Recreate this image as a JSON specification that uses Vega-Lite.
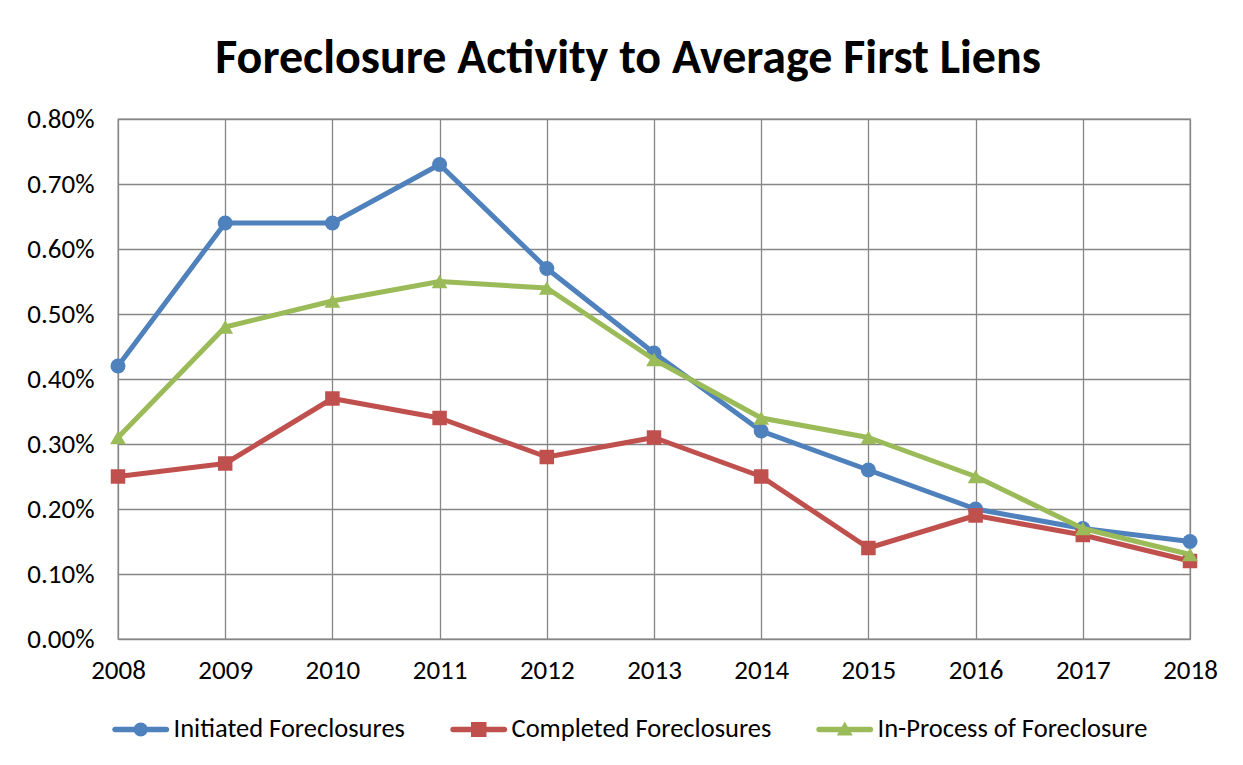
{
  "$schema": "https://vega.github.io/schema/vega-lite/v6.json",
  "autosize": {"type": "none"},
  "padding": {"left": 118, "top": 119, "right": 53, "bottom": 126},
  "width": 1072,
  "height": 520,
  "background": "white",
  "title": {
    "text": "Foreclosure Activity to Average First Liens",
    "font": "Carlito, Lato",
    "fontSize": 48,
    "fontWeight": "bold",
    "color": "black",
    "anchor": "middle",
    "dx": -26,
    "offset": 22
  },
  "data": {
    "values": [
      {"year": 2008, "series": "Initiated Foreclosures", "value": 0.0042},
      {"year": 2009, "series": "Initiated Foreclosures", "value": 0.0064},
      {"year": 2010, "series": "Initiated Foreclosures", "value": 0.0064},
      {"year": 2011, "series": "Initiated Foreclosures", "value": 0.0073},
      {"year": 2012, "series": "Initiated Foreclosures", "value": 0.0057},
      {"year": 2013, "series": "Initiated Foreclosures", "value": 0.0044},
      {"year": 2014, "series": "Initiated Foreclosures", "value": 0.0032},
      {"year": 2015, "series": "Initiated Foreclosures", "value": 0.0026},
      {"year": 2016, "series": "Initiated Foreclosures", "value": 0.0020},
      {"year": 2017, "series": "Initiated Foreclosures", "value": 0.0017},
      {"year": 2018, "series": "Initiated Foreclosures", "value": 0.0015},
      {"year": 2008, "series": "Completed Foreclosures", "value": 0.0025},
      {"year": 2009, "series": "Completed Foreclosures", "value": 0.0027},
      {"year": 2010, "series": "Completed Foreclosures", "value": 0.0037},
      {"year": 2011, "series": "Completed Foreclosures", "value": 0.0034},
      {"year": 2012, "series": "Completed Foreclosures", "value": 0.0028},
      {"year": 2013, "series": "Completed Foreclosures", "value": 0.0031},
      {"year": 2014, "series": "Completed Foreclosures", "value": 0.0025},
      {"year": 2015, "series": "Completed Foreclosures", "value": 0.0014},
      {"year": 2016, "series": "Completed Foreclosures", "value": 0.0019},
      {"year": 2017, "series": "Completed Foreclosures", "value": 0.0016},
      {"year": 2018, "series": "Completed Foreclosures", "value": 0.0012},
      {"year": 2008, "series": "In-Process of Foreclosure", "value": 0.0031},
      {"year": 2009, "series": "In-Process of Foreclosure", "value": 0.0048},
      {"year": 2010, "series": "In-Process of Foreclosure", "value": 0.0052},
      {"year": 2011, "series": "In-Process of Foreclosure", "value": 0.0055},
      {"year": 2012, "series": "In-Process of Foreclosure", "value": 0.0054},
      {"year": 2013, "series": "In-Process of Foreclosure", "value": 0.0043},
      {"year": 2014, "series": "In-Process of Foreclosure", "value": 0.0034},
      {"year": 2015, "series": "In-Process of Foreclosure", "value": 0.0031},
      {"year": 2016, "series": "In-Process of Foreclosure", "value": 0.0025},
      {"year": 2017, "series": "In-Process of Foreclosure", "value": 0.0017},
      {"year": 2018, "series": "In-Process of Foreclosure", "value": 0.0013}
    ]
  },
  "encoding": {
    "x": {
      "field": "year",
      "type": "quantitative",
      "scale": {"domain": [2008, 2018], "nice": false, "zero": false},
      "axis": {
        "title": null,
        "values": [2008, 2009, 2010, 2011, 2012, 2013, 2014, 2015, 2016, 2017, 2018],
        "format": "d",
        "labelFlush": false,
        "labelOverlap": false,
        "labelPadding": 18
      }
    },
    "y": {
      "field": "value",
      "type": "quantitative",
      "scale": {"domain": [0, 0.008], "nice": false},
      "axis": {
        "title": null,
        "values": [0, 0.001, 0.002, 0.003, 0.004, 0.005, 0.006, 0.007, 0.008],
        "format": ".2%",
        "labelFlush": false,
        "labelOverlap": false,
        "labelPadding": 24
      }
    }
  },
  "layer": [
    {
      "transform": [{"filter": "datum.series === 'Initiated Foreclosures'"}],
      "mark": {"type": "line", "strokeWidth": 5, "strokeJoin": "round", "color": "#4F81BD", "clip": false,
               "point": {"shape": "circle", "filled": true, "size": 225, "opacity": 1, "color": "#4F81BD"}}
    },
    {
      "transform": [{"filter": "datum.series === 'Completed Foreclosures'"}],
      "mark": {"type": "line", "strokeWidth": 5, "strokeJoin": "round", "color": "#C0504D", "clip": false,
               "point": {"shape": "square", "filled": true, "size": 210, "opacity": 1, "color": "#C0504D"}}
    },
    {
      "transform": [{"filter": "datum.series === 'In-Process of Foreclosure'"}],
      "mark": {"type": "line", "strokeWidth": 5, "strokeJoin": "round", "color": "#9BBB59", "clip": false,
               "point": {"shape": "triangle-up", "filled": true, "size": 250, "opacity": 1, "color": "#9BBB59"}}
    },
    {
      "transform": [{"filter": "false"}],
      "mark": {"type": "point", "filled": true, "opacity": 1},
      "encoding": {
        "color": {
          "field": "series",
          "type": "nominal",
          "scale": {
            "domain": ["Initiated Foreclosures", "Completed Foreclosures", "In-Process of Foreclosure"],
            "range": ["#4F81BD", "#C0504D", "#9BBB59"]
          },
          "legend": {
            "title": null,
            "orient": "none",
            "direction": "horizontal",
            "legendX": 9.5,
            "legendY": 597,
            "symbolSize": 100,
            "labelOffset": 19.5,
            "columnPadding": 44,
            "labelLimit": 500,
            "padding": 0
          }
        },
        "shape": {
          "field": "series",
          "type": "nominal",
          "scale": {
            "domain": ["Initiated Foreclosures", "Completed Foreclosures", "In-Process of Foreclosure"],
            "range": [
              "M-5.15,-0.55H5.15A0.55,0.55,0,0,1,5.15,0.55H-5.15A0.55,0.55,0,0,1,-5.15,-0.55Z M1.4,0A1.4,1.4,0,1,1,-1.4,0A1.4,1.4,0,1,1,1.4,0Z",
              "M-5.15,-0.55H5.15A0.55,0.55,0,0,1,5.15,0.55H-5.15A0.55,0.55,0,0,1,-5.15,-0.55Z M-1.55,-1.5H1.55V1.5H-1.55Z",
              "M-5.15,-0.55H5.15A0.55,0.55,0,0,1,5.15,0.55H-5.15A0.55,0.55,0,0,1,-5.15,-0.55Z M0,-1.6L1.6,1.2H-1.6Z"
            ]
          },
          "legend": {
            "title": null,
            "orient": "none",
            "direction": "horizontal",
            "legendX": 9.5,
            "legendY": 597,
            "symbolSize": 100,
            "labelOffset": 19.5,
            "columnPadding": 44,
            "labelLimit": 500,
            "padding": 0
          }
        }
      }
    }
  ],
  "config": {
    "font": "Carlito, Lato",
    "view": {"stroke": "#868686", "strokeWidth": 1.3},
    "axis": {
      "domain": false,
      "ticks": false,
      "grid": true,
      "gridColor": "#868686",
      "gridWidth": 1.3,
      "gridOpacity": 1,
      "labelFont": "Carlito, Lato",
      "labelFontSize": 27,
      "labelColor": "black"
    },
    "legend": {
      "labelFont": "Carlito, Lato",
      "labelFontSize": 26.5,
      "labelColor": "black"
    }
  }
}
